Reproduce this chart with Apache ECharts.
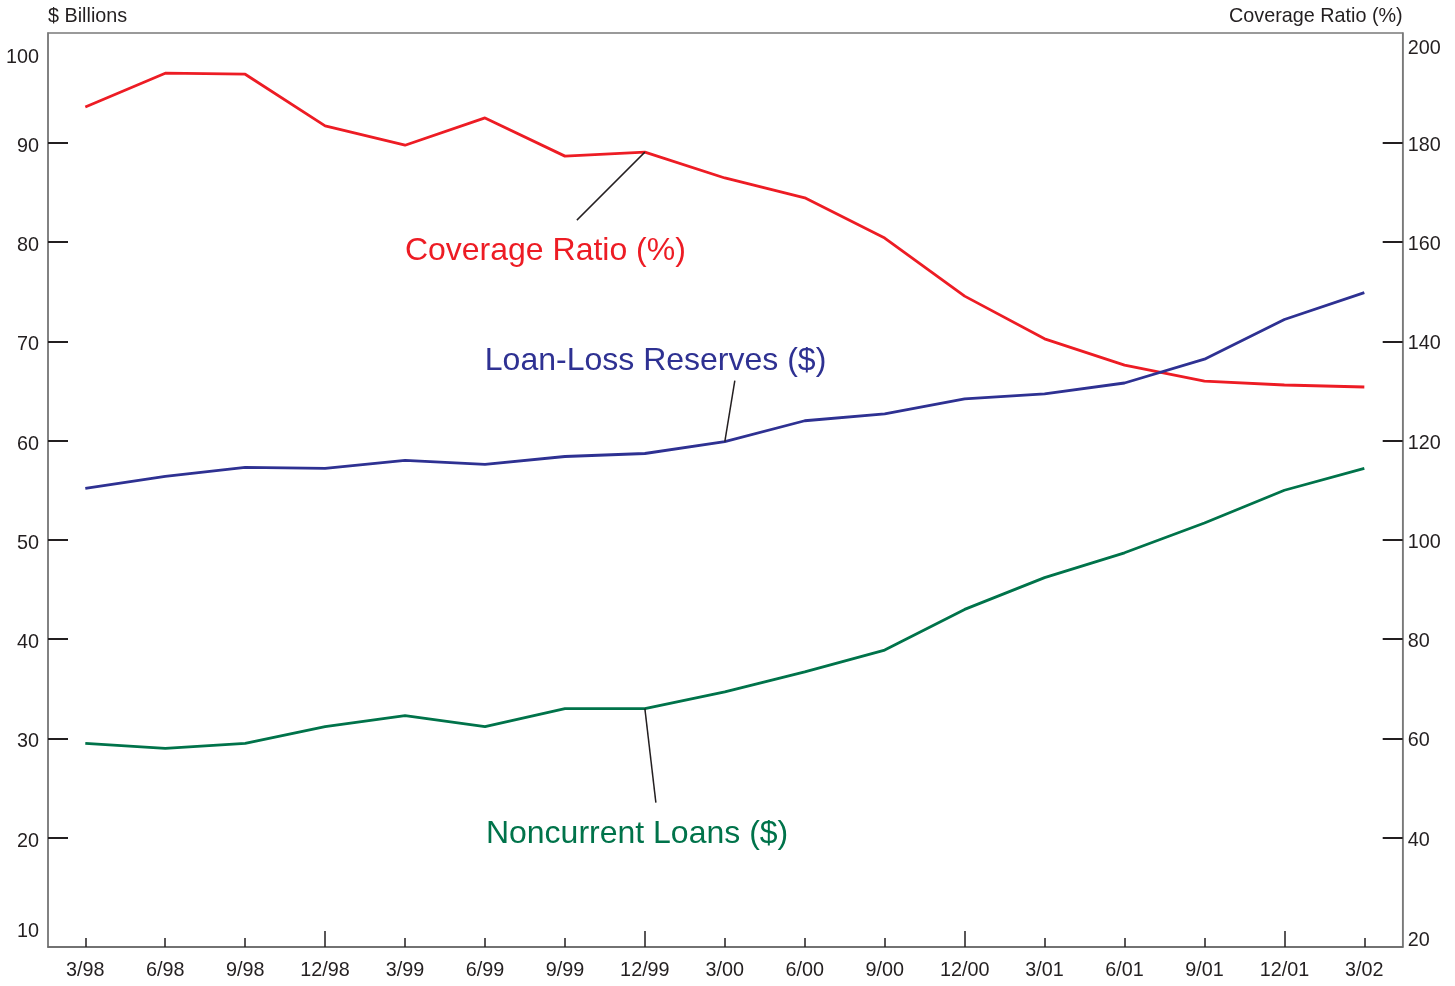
<!DOCTYPE html>
<html>
<head>
<meta charset="utf-8">
<title>Coverage Ratio</title>
<script src="https://cdn.jsdelivr.net/npm/echarts@6/dist/echarts.min.js"></script>
<style>
  html, body { margin: 0; padding: 0; background: #fff; }
  #chart { width: 1455px; height: 986px; }
</style>
</head>
<body>
<div id="chart"></div>
<script>
// quarters on the x axis
const quarters = ['3/98', '6/98', '9/98', '12/98', '3/99', '6/99', '9/99', '12/99', '3/00',
  '6/00', '9/00', '12/00', '3/01', '6/01', '9/01', '12/01', '3/02']
// $ billions (left axis)
const reserves = [55.2, 56.4, 57.3, 57.2, 58.0, 57.6, 58.4, 58.7, 59.9,
  62.0, 62.7, 64.2, 64.7, 65.8, 68.2, 72.2, 74.9]
const noncurrent = [29.5, 29.0, 29.5, 31.2, 32.3, 31.2, 33.0, 33.0, 34.7,
  36.7, 38.9, 43.0, 46.2, 48.7, 51.7, 55.0, 57.2]
// percent (right axis)
const coverage = [187.2, 194.0, 193.8, 183.4, 179.5, 185.0, 177.3, 178.1, 172.9,
  168.9, 160.8, 149.1, 140.5, 135.2, 132.0, 131.2, 130.8]
// tick labels
const leftLabels = [10, 20, 30, 40, 50, 60, 70, 80, 90, 100]
const rightLabels = [20, 40, 60, 80, 100, 120, 140, 160, 180, 200]
const yearEnd = [3, 7, 11, 15]

const FONT = '"Liberation Sans", Arial, Helvetica, sans-serif'
const FS = 19.8
const INK = '#231F20'
const RED = '#ED1C24'
const BLUE = '#2E3192'
const GREEN = '#00734A'

const idx = quarters.map((q, i) => i)
const pairs = arr => arr.map((v, i) => [i, v])

const labelRich = {
  n: { fontSize: FS, fontFamily: FONT, color: INK, padding: [7, 0, 0, 0] },
  hi: { fontSize: FS, fontFamily: FONT, color: INK, padding: [28, 0, 0, 0] },
  lo: { fontSize: FS, fontFamily: FONT, color: INK, padding: [0, 0, 12, 0] }
}
const rightRich = {
  n: { fontSize: FS, fontFamily: FONT, color: INK, padding: [5, 0, 0, 0] },
  hi: { fontSize: FS, fontFamily: FONT, color: INK, padding: [11, 0, 0, 0] },
  lo: { fontSize: FS, fontFamily: FONT, color: INK, padding: [6, 0, 0, 0] }
}

const chart = echarts.init(document.getElementById('chart'))
const option = {
  animation: false,
  backgroundColor: '#fff',
  grid: {
    left: 48,
    right: 52.3,
    top: 33,
    bottom: 39,
    containLabel: false,
    outerBoundsMode: 'none',
    show: true,
    borderColor: '#7a7a7a',
    borderWidth: 1.5
  },
  xAxis: [{
    type: 'value',
    position: 'bottom',
    min: -0.4666,
    max: 16.48,
    splitLine: { show: false },
    axisLine: { show: true, onZero: false, lineStyle: { color: '#666', width: 1.5 } },
    axisTick: {
      show: true,
      inside: true,
      length: 9,
      customValues: idx.filter(i => !yearEnd.includes(i)),
      lineStyle: { color: INK, width: 1.5 }
    },
    axisLabel: {
      customValues: idx,
      formatter: v => quarters[Math.round(v)],
      fontSize: FS,
      fontFamily: FONT,
      color: INK,
      margin: 14
    }
  }, {
    type: 'value',
    position: 'bottom',
    min: -0.4666,
    max: 16.48,
    splitLine: { show: false },
    axisLine: { show: false, onZero: false },
    axisLabel: { show: false },
    axisTick: {
      show: true,
      inside: true,
      length: 16,
      customValues: yearEnd,
      lineStyle: { color: INK, width: 1.5 }
    }
  }],
  yAxis: [{
    type: 'value',
    position: 'left',
    min: 9,
    max: 101.05,
    name: '$ Billions',
    nameLocation: 'end',
    nameGap: 16,
    nameTextStyle: { fontSize: FS, fontFamily: FONT, color: INK, align: 'left', verticalAlign: 'middle' },
    splitLine: { show: false },
    axisLine: { show: true, onZero: false, lineStyle: { color: '#7a7a7a', width: 1.5 } },
    axisTick: {
      show: true,
      inside: true,
      length: 20,
      customValues: [20, 30, 40, 50, 60, 70, 80, 90],
      lineStyle: { color: INK, width: 2 }
    },
    axisLabel: {
      customValues: leftLabels,
      margin: 9,
      formatter: v => v === 100 ? '{hi|' + v + '}' : (v === 10 ? '{lo|' + v + '}' : '{n|' + v + '}'),
      rich: labelRich
    }
  }, {
    type: 'value',
    position: 'right',
    min: 18,
    max: 202.1,
    name: 'Coverage Ratio (%)',
    nameLocation: 'end',
    nameGap: 16,
    nameTextStyle: { fontSize: FS, fontFamily: FONT, color: INK, align: 'right', verticalAlign: 'middle' },
    splitLine: { show: false },
    axisLine: { show: true, onZero: false, lineStyle: { color: '#7a7a7a', width: 1.5 } },
    axisTick: {
      show: true,
      inside: true,
      length: 20,
      customValues: [40, 60, 80, 100, 120, 140, 160, 180],
      lineStyle: { color: INK, width: 2 }
    },
    axisLabel: {
      customValues: rightLabels,
      margin: 5,
      formatter: v => v === 200 ? '{hi|' + v + '}' : (v === 20 ? '{lo|' + v + '}' : '{n|' + v + '}'),
      rich: rightRich
    }
  }],
  series: [{
    name: 'Coverage Ratio (%)',
    type: 'line',
    xAxisIndex: 0,
    yAxisIndex: 1,
    data: pairs(coverage),
    symbol: 'none',
    lineStyle: { color: RED, width: 2.8 },
    z: 3
  }, {
    name: 'Loan-Loss Reserves ($)',
    type: 'line',
    xAxisIndex: 0,
    yAxisIndex: 0,
    data: pairs(reserves),
    symbol: 'none',
    lineStyle: { color: BLUE, width: 2.8 },
    z: 3
  }, {
    name: 'Noncurrent Loans ($)',
    type: 'line',
    xAxisIndex: 0,
    yAxisIndex: 0,
    data: pairs(noncurrent),
    symbol: 'none',
    lineStyle: { color: GREEN, width: 2.8 },
    z: 3
  }]
}
chart.setOption(option)

// leader lines + series labels, anchored on data points
const covPt = chart.convertToPixel({ xAxisIndex: 0, yAxisIndex: 1 }, [7, coverage[7]])
const resPt = chart.convertToPixel({ xAxisIndex: 0, yAxisIndex: 0 }, [8, reserves[8]])
const ncPt = chart.convertToPixel({ xAxisIndex: 0, yAxisIndex: 0 }, [7, noncurrent[7]])

const leader = (p, dx, dy) => ({
  type: 'line',
  shape: { x1: p[0], y1: p[1], x2: p[0] + dx, y2: p[1] + dy },
  style: { stroke: INK, lineWidth: 1.5 },
  z: 10
})
const tag = (text, x, y, color) => ({
  type: 'text',
  x: x,
  y: y,
  style: { text: text, fill: color, fontSize: 32, fontFamily: FONT, verticalAlign: 'middle', align: 'left' },
  z: 10
})

chart.setOption({
  graphic: [
    leader(covPt, -68, 68),
    leader(resPt, 10, -61),
    leader(ncPt, 11, 94),
    tag('Coverage Ratio (%)', covPt[0] - 240, covPt[1] + 99, RED),
    tag('Loan-Loss Reserves ($)', resPt[0] - 240, resPt[1] - 80, BLUE),
    tag('Noncurrent Loans ($)', ncPt[0] - 159, ncPt[1] + 125, GREEN)
  ]
})
</script>
</body>
</html>
